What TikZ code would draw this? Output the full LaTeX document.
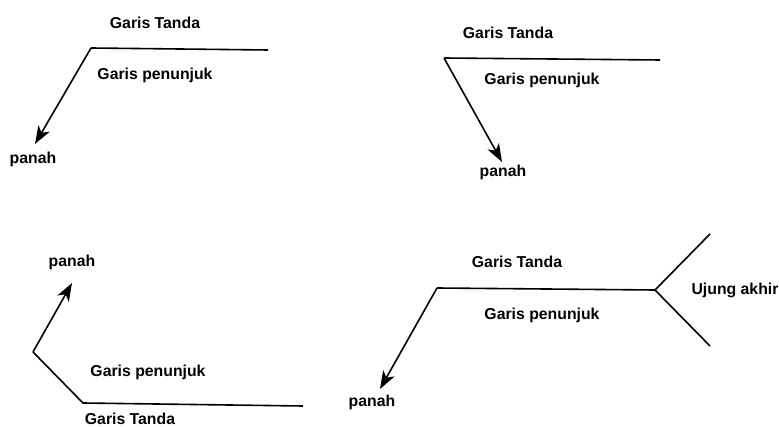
\documentclass[tikz,border=0pt]{standalone}
\usepackage{fontspec}
\setmainfont{Liberation Sans}
\usetikzlibrary{arrows.meta}
\tikzset{
  garis/.style={line width=1.6pt},
  panah/.style={garis,-{Stealth[length=18pt,width=13pt,inset=5pt]}},
  teks/.style={font=\fontsize{15.8}{18}\selectfont\bfseries,inner sep=0pt},
}
\begin{document}
\begin{tikzpicture}[x=1pt,y=-1pt]
    \useasboundingbox (0,0) rectangle (779,427);
    %% kiri atas
    \coordinate (a1) at (91,48);
    \coordinate (a2) at (268,50);
    \coordinate (a3) at (35,144);
    \draw[garis] (a2) -- (a1);
    \draw[panah] (a1) -- (a3);
    \node[teks] (atanda) at (155,23) {Garis Tanda};
    \node[teks] (atunjuk) at (155,75) {Garis penunjuk};
    \node[teks] (apanah) at (33,159) {panah};
    %% kanan atas
    \coordinate (b1) at (444,58);
    \coordinate (b2) at (660,60);
    \coordinate (b3) at (502,162);
    \draw[garis] (b2) -- (b1);
    \draw[panah] (b1) -- (b3);
    \node[teks] (btanda) at (508,33) {Garis Tanda};
    \node[teks] (btunjuk) at (542,80) {Garis penunjuk};
    \node[teks] (bpanah) at (503,172) {panah};
    %% kiri bawah
    \coordinate (c1) at (303,406);
    \coordinate (c2) at (83,403);
    \coordinate (c3) at (33,352);
    \coordinate (c4) at (72,283);
    \draw[garis] (c1) -- (c2) -- (c3);
    \draw[panah] (c3) -- (c4);
    \node[teks] (cpanah) at (72,262) {panah};
    \node[teks] (ctunjuk) at (148,372) {Garis penunjuk};
    \node[teks] (ctanda) at (130,419) {Garis Tanda};
    %% kanan bawah
    \coordinate (d1) at (655,290);
    \coordinate (d2) at (437,288);
    \coordinate (d3) at (380,389);
    \coordinate (d4) at (710,234);
    \coordinate (d5) at (710,346);
    \draw[garis] (d1) -- (d2);
    \draw[panah] (d2) -- (d3);
    \draw[garis] (d4) -- (d1) -- (d5);
    \node[teks] (dtanda) at (517,262) {Garis Tanda};
    \node[teks] (dtunjuk) at (542,315) {Garis penunjuk};
    \node[teks] (dujung) at (735,290) {Ujung akhir};
    \node[teks] (dpanah) at (372,402) {panah};
\end{tikzpicture}
\end{document}
